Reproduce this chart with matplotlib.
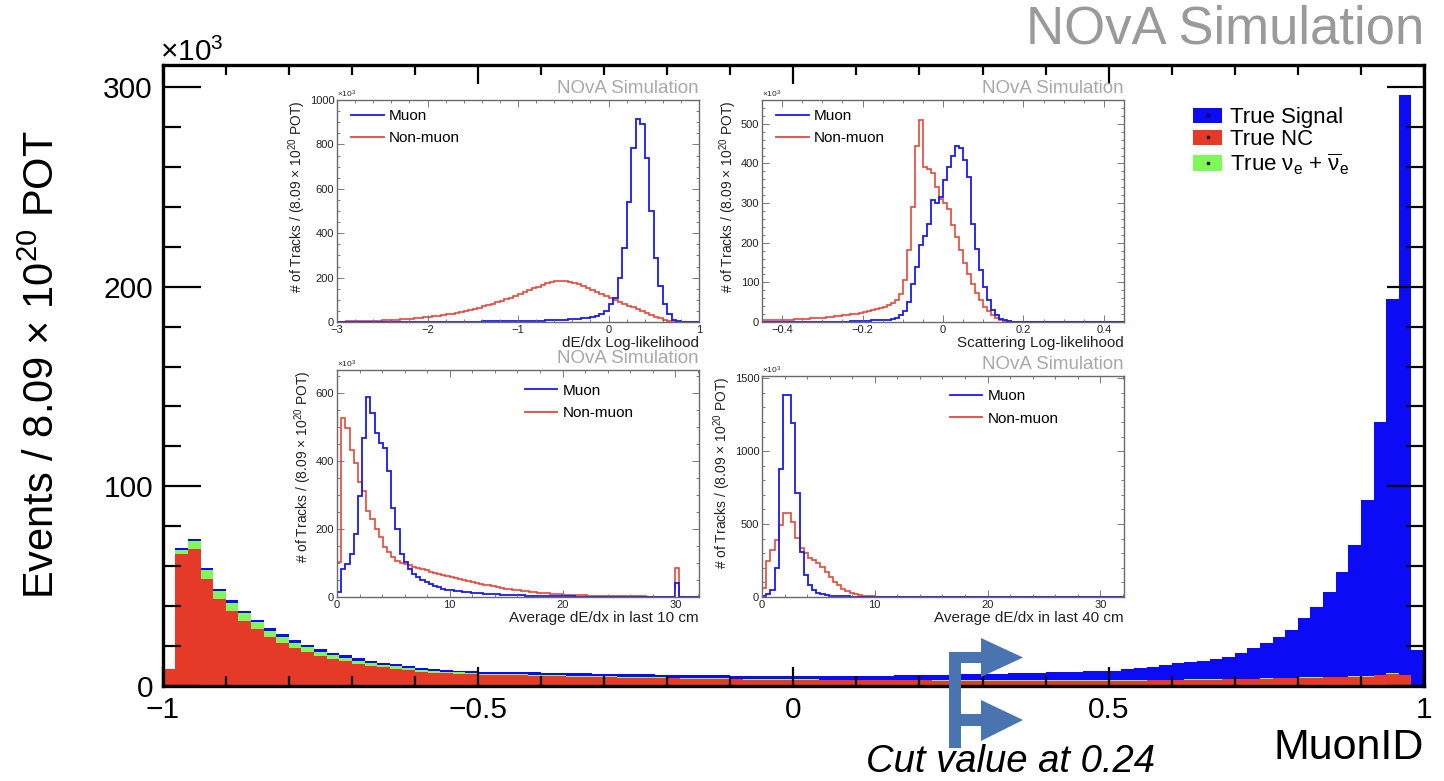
import numpy as np
import matplotlib
matplotlib.use("Agg")
import matplotlib.pyplot as plt
from matplotlib.patches import Patch, Polygon
from matplotlib.lines import Line2D
from matplotlib.ticker import MultipleLocator, FuncFormatter

plt.rcParams["font.family"] = ["Liberation Sans", "DejaVu Sans"]
plt.rcParams["mathtext.fontset"] = "custom"
plt.rcParams["mathtext.rm"] = "Liberation Sans"
plt.rcParams["mathtext.it"] = "Liberation Sans:italic"
plt.rcParams["mathtext.bf"] = "Liberation Sans:bold"

BLUE = "#0b0bf5"
RED = "#e63a28"
GREEN = "#7ff85a"
LBLUE = "#1a1af0"
LRED = "#e5483a"
ARROW = "#4a74b0"

# --- main plot: MuonID, 100 bins on [-1, 1], events in thousands ---
muonid_edges = np.linspace(-1, 1, 101)
true_nc = [
    8.3, 66.0, 68.5, 53.6, 43.4, 37.6, 32.7, 28.5, 24.7, 21.7,
    19.2, 17.2, 15.2, 13.7, 12.4, 11.2, 10.2, 9.4, 8.5, 8.0,
    7.2, 6.7, 6.3, 6.2, 5.8, 5.6, 5.5, 5.4, 5.3, 5.1,
    5.0, 4.9, 4.7, 4.6, 4.5, 4.4, 4.2, 4.1, 4.0, 3.9,
    3.8, 3.7, 3.6, 3.5, 3.4, 3.3, 3.2, 3.1, 3.1, 3.0,
    3.0, 3.0, 2.9, 2.9, 2.9, 2.9, 2.8, 2.8, 2.8, 2.8,
    2.8, 2.7, 2.7, 2.7, 2.7, 2.7, 2.7, 2.6, 2.6, 2.6,
    2.6, 2.6, 2.6, 2.6, 2.6, 2.6, 2.6, 2.7, 2.8, 2.9,
    3.0, 3.1, 3.2, 3.2, 3.3, 3.4, 3.5, 3.6, 3.8, 4.0,
    4.1, 4.2, 4.3, 4.5, 4.6, 4.7, 5.3, 6.0, 5.3, 0.0,
]
true_nue = [
    0.0, 2.3, 4.3, 4.5, 4.2, 4.2, 3.7, 3.4, 3.0, 2.7,
    2.5, 2.2, 2.0, 1.8, 1.8, 1.5, 1.3, 1.3, 1.3, 1.0,
    1.0, 0.8, 0.7, 0.6, 0.7, 0.6, 0.6, 0.6, 0.6, 0.6,
    0.6, 0.5, 0.5, 0.5, 0.5, 0.5, 0.5, 0.5, 0.5, 0.5,
    0.4, 0.4, 0.4, 0.4, 0.4, 0.4, 0.4, 0.4, 0.4, 0.4,
    0.3, 0.3, 0.3, 0.3, 0.3, 0.3, 0.3, 0.3, 0.3, 0.3,
    0.3, 0.3, 0.3, 0.2, 0.2, 0.2, 0.2, 0.2, 0.2, 0.2,
    0.2, 0.2, 0.2, 0.2, 0.2, 0.2, 0.2, 0.2, 0.2, 0.2,
    0.2, 0.2, 0.2, 0.2, 0.2, 0.2, 0.2, 0.2, 0.2, 0.2,
    0.2, 0.2, 0.2, 0.2, 0.2, 0.2, 0.2, 0.4, 0.2, 0.0,
]
true_signal = [
    0.0, 0.7, 0.9, 1.2, 1.2, 1.2, 1.4, 1.3, 1.5, 1.5,
    1.3, 1.3, 1.3, 1.2, 1.2, 1.2, 1.2, 1.0, 1.0, 1.0,
    0.8, 0.8, 0.8, 0.7, 0.8, 1.0, 1.0, 1.0, 1.0, 1.1,
    1.1, 1.1, 1.2, 1.2, 1.2, 1.2, 1.3, 1.3, 1.3, 1.3,
    1.4, 1.4, 1.4, 1.5, 1.5, 1.5, 1.5, 1.6, 1.6, 1.6,
    1.7, 1.7, 1.8, 1.8, 1.9, 1.9, 2.1, 2.1, 2.2, 2.3,
    2.4, 2.6, 2.7, 2.9, 3.0, 3.2, 3.3, 3.6, 3.7, 3.9,
    4.0, 4.2, 4.3, 4.5, 4.7, 4.9, 5.6, 5.9, 6.7, 7.4,
    8.1, 8.5, 9.3, 10.1, 11.2, 12.8, 15.2, 17.6, 20.4, 23.9,
    29.6, 35.2, 42.5, 52.3, 65.8, 88.1, 126.5, 187.6, 290.5, 18.0,
]

# --- inset 1: dE/dx log-likelihood, 80 bins on [-3, 1] ---
dedxll_edges = np.linspace(-3, 1, 81)
dedxll_muon = [
    0, 0, 0, 0, 0, 0, 0, 0, 0, 0,
    0, 0, 0, 0, 0, 1, 1, 1, 1, 1,
    1, 1, 1, 1, 1, 1, 2, 2, 2, 2,
    2, 2, 3, 3, 3, 3, 3, 4, 4, 4,
    4, 4, 5, 5, 6, 6, 7, 7, 8, 9,
    11, 12, 13, 15, 17, 20, 24, 29, 36, 48,
    80, 110, 200, 335, 540, 785, 913, 890, 740, 500,
    290, 160, 80, 35, 10, 3, 0, 0, 0, 0,
]
dedxll_nonmuon = [
    2, 2, 3, 3, 3, 4, 4, 5, 5, 6,
    7, 8, 9, 10, 12, 13, 15, 17, 19, 21,
    23, 25, 28, 31, 34, 37, 41, 45, 50, 55,
    60, 65, 70, 76, 82, 88, 95, 102, 109, 116,
    124, 133, 142, 151, 159, 167, 174, 180, 184, 185,
    183, 180, 175, 169, 162, 154, 146, 137, 127, 117,
    106, 98, 90, 82, 74, 66, 57, 48, 40, 32,
    24, 17, 11, 6, 3, 1, 0, 0, 0, 0,
]

# --- inset 2: scattering log-likelihood, 90 bins on [-0.45, 0.45] ---
scatll_edges = np.linspace(-0.45, 0.45, 91)
scatll_muon = [
    0, 0, 0, 0, 0, 0, 0, 0, 0, 0,
    0, 0, 0, 0, 0, 1, 1, 1, 1, 1,
    1, 1, 2, 2, 2, 3, 3, 4, 4, 5,
    5, 6, 8, 11, 17, 29, 50, 97, 139, 193,
    217, 248, 307, 300, 315, 357, 391, 420, 443, 440,
    409, 366, 248, 185, 130, 88, 55, 31, 17, 8,
    4, 2, 1, 1, 0, 0, 0, 0, 0, 0,
    0, 0, 0, 0, 0, 0, 0, 0, 0, 0,
    0, 0, 0, 0, 0, 0, 0, 0, 0, 0,
]
scatll_nonmuon = [
    4, 4, 5, 5, 5, 6, 6, 6, 7, 7,
    8, 8, 9, 9, 10, 11, 12, 13, 14, 15,
    17, 18, 20, 21, 23, 25, 27, 30, 33, 36,
    38, 43, 48, 55, 70, 105, 181, 290, 445, 510,
    390, 385, 375, 340, 311, 300, 285, 245, 214, 181,
    150, 122, 97, 73, 55, 39, 28, 17, 11, 6,
    3, 2, 1, 0, 0, 0, 0, 0, 0, 0,
    0, 0, 0, 0, 0, 0, 0, 0, 0, 0,
    0, 0, 0, 0, 0, 0, 0, 0, 0, 0,
]

# --- insets 3/4: average dE/dx, 87 bins of 0.37 from 0 ---
dedx_edges = np.arange(88) * 0.37
dedx10_muon = [
    15, 83, 98, 127, 185, 298, 468, 590, 541, 483,
    454, 439, 371, 263, 200, 127, 102, 83, 68, 58,
    50, 43, 37, 32, 28, 25, 22, 20, 18, 17,
    15, 14, 13, 12, 11, 10, 9, 9, 8, 7,
    7, 6, 6, 5, 5, 4, 4, 4, 3, 3,
    3, 3, 2, 2, 2, 2, 2, 1, 1, 1,
    1, 1, 1, 1, 1, 1, 1, 0, 0, 0,
    0, 0, 0, 0, 0, 0, 0, 0, 0, 0,
    0, 40, 0, 0, 0, 0, 0,
]
dedx10_nonmuon = [
    102, 527, 498, 434, 395, 337, 312, 254, 229, 200,
    176, 146, 132, 117, 107, 101, 97, 93, 89, 85,
    81, 78, 75, 72, 69, 66, 63, 60, 57, 54,
    51, 48, 45, 42, 39, 36, 34, 31, 29, 27,
    25, 23, 21, 20, 18, 17, 15, 14, 13, 12,
    11, 10, 9, 8, 7, 7, 6, 6, 5, 5,
    4, 4, 4, 3, 3, 3, 3, 2, 2, 2,
    2, 2, 2, 2, 1, 1, 1, 1, 1, 1,
    1, 85, 1, 1, 1, 1, 1,
]
dedx40_muon = [
    8, 18, 45, 200, 880, 1385, 1385, 1194, 712, 310,
    149, 80, 46, 30, 20, 14, 10, 8, 6, 5,
    4, 3, 3, 2, 2, 2, 1, 1, 1, 1,
    1, 0, 0, 0, 0, 0, 0, 0, 0, 0,
    0, 0, 0, 0, 0, 0, 0, 0, 0, 0,
    0, 0, 0, 0, 0, 0, 0, 0, 0, 0,
    0, 0, 0, 0, 0, 0, 0, 0, 0, 0,
    0, 0, 0, 0, 0, 0, 0, 0, 0, 0,
    0, 0, 0, 0, 0, 0, 0,
]
dedx40_nonmuon = [
    60, 245, 325, 390, 494, 574, 574, 517, 402, 333,
    299, 264, 253, 230, 207, 172, 138, 103, 80, 57,
    41, 30, 18, 11, 7, 5, 4, 3, 2, 2,
    2, 1, 1, 1, 1, 1, 1, 0, 0, 0,
    0, 0, 0, 0, 0, 0, 0, 0, 0, 0,
    0, 0, 0, 0, 0, 0, 0, 0, 0, 0,
    0, 0, 0, 0, 0, 0, 0, 0, 0, 0,
    0, 0, 0, 0, 0, 0, 0, 0, 0, 0,
    0, 0, 0, 0, 0, 0, 0,
]

W, H = 1444, 781


def fx(px):
    return px / W


def fy(py):
    return 1 - py / H


def num(v, _=None):
    s = f"{v:g}"
    return s.replace("-", "\u2212")


fig = plt.figure(figsize=(W / 100, H / 100), dpi=100)
ax = fig.add_axes([fx(162.7), fy(686), fx(1424) - fx(162.7), fy(65) - fy(686)])

nc = np.array(true_nc)
nue = np.array(true_nue)
sig = np.array(true_signal)
ax.stairs(nc + nue + sig, muonid_edges, fill=True, color=BLUE, lw=0)
ax.stairs(nc + nue, muonid_edges, fill=True, color=GREEN, lw=0)
ax.stairs(nc, muonid_edges, fill=True, color=RED, lw=0)

ax.set_xlim(-1, 1)
ax.set_ylim(0, 311)
ax.xaxis.set_major_locator(MultipleLocator(0.5))
ax.xaxis.set_minor_locator(MultipleLocator(0.1))
ax.yaxis.set_major_locator(MultipleLocator(100))
ax.yaxis.set_minor_locator(MultipleLocator(20))
ax.xaxis.set_major_formatter(FuncFormatter(num))
ax.yaxis.set_major_formatter(FuncFormatter(num))
ax.tick_params(axis="both", which="both", direction="in", top=True, right=True,
               width=1.6, labelsize=21.5, colors="black")
ax.tick_params(axis="x", which="major", length=14, pad=7)
ax.tick_params(axis="x", which="minor", length=7)
ax.tick_params(axis="y", which="major", length=27, pad=7)
ax.tick_params(axis="y", which="minor", length=13)
for sp in ax.spines.values():
    sp.set_linewidth(2.4)

ax.set_xlabel("MuonID", loc="right", fontsize=31, labelpad=3)
ax.set_ylabel(r"Events / 8.09 $\times$ 10$^{20}$ POT", fontsize=30)
ax.yaxis.set_label_coords(-0.079, 0.517)
fig.text(fx(160), fy(52), r"$\times$10$^{3}$", fontsize=21.5, va="center", ha="left")

leg_handles = [
    (Patch(fc=BLUE, ec="none"), Line2D([], [], ls="none", marker="s", ms=1.5, color="k")),
    (Patch(fc=RED, ec="none"), Line2D([], [], ls="none", marker="s", ms=1.5, color="k")),
    (Patch(fc=GREEN, ec="none"), Line2D([], [], ls="none", marker="s", ms=1.5, color="k")),
]
leg_labels = ["True Signal", "True NC", r"True $\mathregular{\nu_{e}}$ + $\mathregular{\overline{\nu}_{e}}$"]
ax.legend(leg_handles, leg_labels, loc="upper left", bbox_to_anchor=(0.817, 0.932),
          frameon=False, fontsize=16, handlelength=1.3, handleheight=0.72,
          handletextpad=0.35, labelspacing=0.05, borderpad=0, borderaxespad=0)

fig.text(fx(1424), fy(30), "NOvA Simulation", ha="right", va="center",
         fontsize=38, color="#9a9a9a")


def inset(rect, edges, muon, nonmuon, xlim, ylim, xmaj, xmin, ymaj, ymin,
          xlabel, leg_x, leg_loc):
    a = fig.add_axes(rect, zorder=5)
    a.set_facecolor("white")
    a.stairs(nonmuon, edges, color=LRED, lw=1.2)
    a.stairs(muon, edges, color=LBLUE, lw=1.3)
    a.set_xlim(*xlim)
    a.set_ylim(*ylim)
    a.xaxis.set_major_locator(MultipleLocator(xmaj))
    a.xaxis.set_minor_locator(MultipleLocator(xmin))
    a.yaxis.set_major_locator(MultipleLocator(ymaj))
    a.yaxis.set_minor_locator(MultipleLocator(ymin))
    a.xaxis.set_major_formatter(FuncFormatter(num))
    a.yaxis.set_major_formatter(FuncFormatter(num))
    a.tick_params(axis="both", which="both", direction="in", top=True, right=True,
                  width=0.6, colors="#666666", labelcolor="#222222", labelsize=8, pad=2)
    a.tick_params(which="major", length=5)
    a.tick_params(which="minor", length=2.5)
    for sp in a.spines.values():
        sp.set_linewidth(1.0)
        sp.set_color("#6a6a6a")
    a.set_xlabel(xlabel, loc="right", fontsize=11, labelpad=1, color="#222222")
    a.set_ylabel(r"# of Tracks / (8.09 $\times$ 10$^{20}$ POT)", loc="top",
                 fontsize=10, labelpad=1, color="#222222")
    a.text(0.0, 1.0, r"$\times$10$^{3}$", transform=a.transAxes, fontsize=6,
           va="bottom", ha="left", color="#222222")
    a.text(1.0, 1.012, "NOvA Simulation", transform=a.transAxes, fontsize=13.5,
           va="bottom", ha="right", color="#a8a8a8")
    h = [Line2D([], [], color=LBLUE, lw=1.3), Line2D([], [], color=LRED, lw=1.3)]
    a.legend(h, ["Muon", "Non-muon"], loc="upper left", bbox_to_anchor=(leg_x, leg_loc),
             frameon=False, fontsize=11, handlelength=2.1, handletextpad=0.35,
             labelspacing=0.55, borderpad=0, borderaxespad=0)
    return a


iw = fx(699) - fx(337)
inset([fx(337), fy(322), iw, fy(100) - fy(322)], dedxll_edges, dedxll_muon,
      dedxll_nonmuon, (-3, 1), (0, 1000), 1, 0.2, 200, 50,
      "dE/dx Log-likelihood", 0.04, 0.96)
inset([fx(762), fy(322), iw, fy(100) - fy(322)], scatll_edges, scatll_muon,
      scatll_nonmuon, (-0.45, 0.45), (0, 560), 0.2, 0.05, 100, 20,
      "Scattering Log-likelihood", 0.04, 0.96)
inset([fx(337), fy(597), iw, fy(370) - fy(597)], dedx_edges, dedx10_muon,
      dedx10_nonmuon, (0, 32.1), (0, 668), 10, 2, 200, 50,
      "Average dE/dx in last 10 cm", 0.52, 0.94)
inset([fx(762), fy(597), iw, fy(376) - fy(597)], dedx_edges, dedx40_muon,
      dedx40_nonmuon, (0, 32.1), (0, 1515), 10, 2, 500, 100,
      "Average dE/dx in last 40 cm", 0.52, 0.94)

# cut arrow at MuonID = 0.24
shapes = [
    [(949, 652), (961, 652), (961, 748), (949, 748)],
    [(961, 652), (982, 652), (982, 663), (961, 663)],
    [(981, 638), (1023, 657.5), (981, 677)],
    [(961, 714), (982, 714), (982, 726), (961, 726)],
    [(981, 700), (1023, 720), (981, 741)],
]
for pts in shapes:
    fig.add_artist(Polygon([(fx(x), fy(y)) for x, y in pts], closed=True,
                           transform=fig.transFigure, fc=ARROW, ec="none", zorder=10))
fig.text(fx(1010), fy(762), "Cut value at 0.24", ha="center", va="center",
         fontsize=27.5, style="italic")

fig.savefig("out.png", dpi=100, facecolor="white")
